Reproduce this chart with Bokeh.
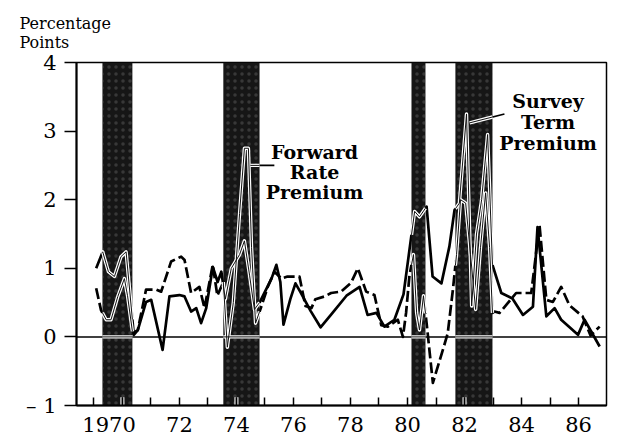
import numpy as np
from bokeh.plotting import figure
from bokeh.models import Range1d, FixedTicker, Span, Title
from bokeh.embed import file_html
from bokeh.resources import INLINE
from bokeh.core.properties import value

FONT = "DejaVu Serif"

# ---------------- data ----------------
# solid series (quarter-ish dates, percentage points)
solid_x = [1969.08, 1969.31, 1969.51, 1969.72, 1969.95, 1970.13, 1970.40, 1970.54, 1970.83, 1971.01,
           1971.41, 1971.65, 1972.00, 1972.18, 1972.41, 1972.59, 1972.76, 1972.94, 1973.17, 1973.34,
           1973.47, 1973.61, 1973.82, 1974.11, 1974.28, 1974.46, 1974.63, 1974.81, 1975.05, 1975.23,
           1975.40, 1975.54, 1975.65, 1975.89, 1976.07, 1976.25, 1976.60, 1976.95, 1977.37, 1977.86,
           1978.32, 1978.60, 1978.91, 1979.19, 1979.54, 1979.86, 1980.25, 1980.42, 1980.67, 1980.88,
           1981.19, 1981.47, 1981.65, 1981.82, 1982.07, 1982.25, 1982.42, 1982.60, 1982.81, 1982.98,
           1983.29, 1983.68, 1984.05, 1984.40, 1984.56, 1984.87, 1985.16, 1985.39, 1985.98, 1986.21,
           1986.74]
solid_y = [1.0, 1.24, 0.95, 0.88, 1.17, 1.24, 0.03, 0.1, 0.51, 0.54,
           -0.19, 0.59, 0.61, 0.59, 0.37, 0.42, 0.2, 0.42, 1.02, 0.8,
           0.95, 0.55, 1.0, 1.2, 1.4, 0.9, 0.4, 0.5, 0.7, 0.85,
           1.05, 0.8, 0.18, 0.55, 0.78, 0.65, 0.38, 0.14, 0.35, 0.6,
           0.73, 0.32, 0.35, 0.15, 0.25, 0.62, 1.83, 1.75, 1.9, 0.88,
           0.78, 1.32, 1.85, 1.95, 3.25, 0.45, 1.5, 2.0, 2.95, 1.05,
           0.64, 0.56, 0.32, 0.44, 1.6, 0.3, 0.42, 0.25, 0.03, 0.25,
           -0.14]

# dashed series
dashed_x = [1969.08, 1969.25, 1969.43, 1969.60, 1969.84, 1970.07, 1970.18, 1970.36, 1970.54, 1970.83,
            1971.18, 1971.36, 1971.71, 1972.06, 1972.18, 1972.41, 1972.70, 1972.88, 1973.17, 1973.33,
            1973.54, 1973.68, 1973.89, 1974.11, 1974.28, 1974.42, 1974.53, 1974.67, 1974.87, 1975.10,
            1975.33, 1975.58, 1975.79, 1976.21, 1976.42, 1976.63, 1976.77, 1977.09, 1977.32, 1977.67,
            1978.02, 1978.26, 1978.55, 1978.84, 1979.08, 1979.31, 1979.66, 1979.84, 1979.95, 1980.07,
            1980.21, 1980.32, 1980.42, 1980.56, 1980.67, 1980.89, 1981.24, 1981.41, 1981.59, 1981.72,
            1981.86, 1982.04, 1982.21, 1982.39, 1982.56, 1982.74, 1982.88, 1982.98, 1983.05, 1983.23,
            1983.81, 1984.34, 1984.63, 1984.87, 1985.10, 1985.39, 1985.68, 1986.14, 1986.42, 1986.74]
dashed_y = [0.71, 0.39, 0.25, 0.25, 0.59, 0.85, 0.6, 0.05, 0.1, 0.69,
            0.69, 0.66, 1.1, 1.17, 1.12, 0.64, 0.73, 0.42, 1.05, 0.6,
            0.8, -0.15, 0.5, 1.8, 2.75, 2.75, 1.3, 0.2, 0.44, 0.73,
            0.95, 0.85, 0.88, 0.88, 0.45, 0.42, 0.55, 0.59, 0.64, 0.66,
            0.79, 1.0, 0.66, 0.61, 0.17, 0.15, 0.25, 0.0, 0.35, 0.9,
            1.2, 0.35, 0.1, 0.6, 0.2, -0.67, -0.19, 0.05, 0.68, 1.2,
            2.0, 1.95, 1.2, 0.4, 1.3, 2.1, 1.3, 0.35, 0.37, 0.35,
            0.64, 0.64, 1.63, 0.54, 0.51, 0.73, 0.46, 0.3, 0.02, 0.15]

# recession shading
bar_start = [1969.30, 1973.54, 1980.14, 1981.68]
bar_end = [1970.35, 1974.81, 1980.63, 1982.98]

# axes
y_ticks = [-1, 0, 1, 2, 3, 4]
year_ticks = list(range(1969, 1987))
x_labels = {1970: "1970\u2007\u2007", 1972: "72", 1974: "74", 1976: "76", 1978: "78",
            1980: "80", 1982: "82", 1984: "84", 1986: "86"}
unit_lines = ["Percentage", "Points"]

# annotations
ann_text = ["Forward", "Rate", "Premium", "Survey", "Term", "Premium"]
ann_x = [1976.74, 1976.74, 1976.74, 1984.93, 1984.93, 1984.93]
ann_y = [2.70, 2.41, 2.11, 3.44, 3.13, 2.83]
ptr_x = [[1974.49, 1975.33], [1982.18, 1983.40]]
ptr_y = [[2.50, 2.50], [3.12, 3.25]]

assert len(solid_x) == len(solid_y) and len(dashed_x) == len(dashed_y)


def clip(xs, ys, a, b):
    xs = np.asarray(xs, float)
    ys = np.asarray(ys, float)
    a = max(a, xs[0])
    b = min(b, xs[-1])
    if b <= a:
        return None
    inner = xs[(xs > a) & (xs < b)]
    px = np.concatenate([[a], inner, [b]])
    return list(px), list(np.interp(px, xs, ys))


# ---------------- figure ----------------
p = figure(frame_width=530, frame_height=343, output_backend="svg", toolbar_location=None,
           x_range=Range1d(1968.39, 1986.98), y_range=Range1d(-1, 4),
           min_border_left=76, min_border_right=16, min_border_top=62, min_border_bottom=20)
p.grid.visible = False
p.outline_line_color = "black"
p.outline_line_width = 1.5
p.background_fill_color = "white"
p.border_fill_color = "white"

# unit label above the frame (two lines)
p.add_layout(Title(text="\n".join(unit_lines), align="left", offset=-57, text_font=FONT,
                   text_font_size="16px", text_font_style="normal", text_color="black",
                   text_line_height=1.05, standoff=20), "above")

ya = p.yaxis[0]
ya.ticker = FixedTicker(ticks=y_ticks)
ya.major_label_overrides = {-1: "\u2013 1"}
ya.major_tick_out = 12
ya.major_tick_in = 0
ya.minor_tick_out = 0
ya.minor_tick_in = 0
ya.axis_line_width = 2
ya.major_tick_line_width = 1.5
ya.major_label_text_font = FONT
ya.major_label_text_font_size = "21px"
ya.major_label_text_color = "black"
ya.major_label_standoff = 8

xa = p.xaxis[0]
xa.ticker = FixedTicker(ticks=year_ticks)
xa.major_label_overrides = {t: x_labels.get(t, "") for t in year_ticks}
xa.major_tick_out = 0
xa.major_tick_in = 8
xa.minor_tick_out = 0
xa.minor_tick_in = 0
xa.axis_line_width = 2
xa.major_tick_line_width = 1.5
xa.major_label_text_font = FONT
xa.major_label_text_font_size = "21px"
xa.major_label_text_color = "black"
xa.major_label_standoff = 7

p.add_layout(Span(location=0, dimension="width", line_color="black", line_width=1.5, level="underlay"))

# black lines
p.line(solid_x, solid_y, line_color="black", line_width=2.7, line_join="round")
p.line(dashed_x, dashed_y, line_color="black", line_width=2.7, line_dash="11 4", line_join="round")

# recession bars
p.quad(left=bar_start, right=bar_end, bottom=-1, top=4, fill_color="#161616", line_color=None,
       hatch_pattern="dot", hatch_color="#777777", hatch_scale=7, hatch_weight=1.0, hatch_alpha=0.35)

# pointers (black)
p.multi_line(ptr_x, ptr_y, line_color="black", line_width=1.6)

# white (hollow) strokes inside the bars
wx, wy = [], []
for a, b in zip(bar_start, bar_end):
    for xs, ys in [(solid_x, solid_y), (dashed_x, dashed_y)] + list(zip(ptr_x, ptr_y)):
        c = clip(xs, ys, a, b)
        if c:
            wx.append(c[0]); wy.append(c[1])
    wx.append([a, b]); wy.append([0, 0])
p.multi_line(wx, wy, line_color="white", line_width=3.4, line_join="round")
p.multi_line(wx, wy, line_color="#111111", line_width=1.0, line_join="round")

# ticks inside bars shown in white
tick_h = 0.12
tx = [t for t in year_ticks if any(a < t < b for a, b in zip(bar_start, bar_end))]
p.segment(x0=tx, y0=[-1] * len(tx), x1=tx, y1=[-1 + tick_h] * len(tx), line_color="white", line_width=4)
p.segment(x0=tx, y0=[-1] * len(tx), x1=tx, y1=[-1 + tick_h] * len(tx), line_color="#111111", line_width=1.5)

p.text(x=ann_x, y=ann_y, text=ann_text, text_font=value(FONT), text_font_style="bold",
       text_font_size="19px", text_align="center", text_baseline="alphabetic", text_color="black")

open("out.html", "w").write(file_html(p, INLINE))
